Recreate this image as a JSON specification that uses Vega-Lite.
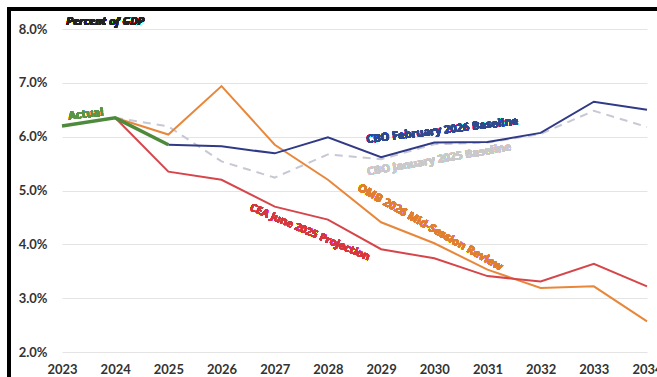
{
  "$schema": "https://vega.github.io/schema/vega-lite/v6.json",
  "autosize": {"type": "none"},
  "width": 585,
  "height": 323,
  "padding": {"left": 62, "top": 29, "right": 10, "bottom": 25},
  "background": "white",
  "config": {
    "view": {"stroke": null},
    "font": "Lato",
    "axis": {"labelFont": "Lato", "labelFontWeight": "bold", "labelFontSize": 13, "labelColor": "#333333"}
  },
  "datasets": {
    "deficits": [
      {"series": "Actual", "year": 2023, "value": 6.2},
      {"series": "Actual", "year": 2024, "value": 6.35},
      {"series": "Actual", "year": 2025, "value": 5.85},

      {"series": "CBO February 2026", "year": 2025, "value": 5.85},
      {"series": "CBO February 2026", "year": 2026, "value": 5.82},
      {"series": "CBO February 2026", "year": 2027, "value": 5.69},
      {"series": "CBO February 2026", "year": 2028, "value": 5.99},
      {"series": "CBO February 2026", "year": 2029, "value": 5.62},
      {"series": "CBO February 2026", "year": 2030, "value": 5.89},
      {"series": "CBO February 2026", "year": 2031, "value": 5.9},
      {"series": "CBO February 2026", "year": 2032, "value": 6.07},
      {"series": "CBO February 2026", "year": 2033, "value": 6.65},
      {"series": "CBO February 2026", "year": 2034, "value": 6.5},

      {"series": "CBO January 2025", "year": 2024, "value": 6.35},
      {"series": "CBO January 2025", "year": 2025, "value": 6.19},
      {"series": "CBO January 2025", "year": 2026, "value": 5.54},
      {"series": "CBO January 2025", "year": 2027, "value": 5.24},
      {"series": "CBO January 2025", "year": 2028, "value": 5.67},
      {"series": "CBO January 2025", "year": 2029, "value": 5.58},
      {"series": "CBO January 2025", "year": 2030, "value": 5.86},
      {"series": "CBO January 2025", "year": 2031, "value": 5.89},
      {"series": "CBO January 2025", "year": 2032, "value": 6.05},
      {"series": "CBO January 2025", "year": 2033, "value": 6.48},
      {"series": "CBO January 2025", "year": 2034, "value": 6.18},

      {"series": "OMB 2026 Mid-Session", "year": 2024, "value": 6.35},
      {"series": "OMB 2026 Mid-Session", "year": 2025, "value": 6.04},
      {"series": "OMB 2026 Mid-Session", "year": 2026, "value": 6.94},
      {"series": "OMB 2026 Mid-Session", "year": 2027, "value": 5.85},
      {"series": "OMB 2026 Mid-Session", "year": 2028, "value": 5.2},
      {"series": "OMB 2026 Mid-Session", "year": 2029, "value": 4.41},
      {"series": "OMB 2026 Mid-Session", "year": 2030, "value": 4.02},
      {"series": "OMB 2026 Mid-Session", "year": 2031, "value": 3.53},
      {"series": "OMB 2026 Mid-Session", "year": 2032, "value": 3.19},
      {"series": "OMB 2026 Mid-Session", "year": 2033, "value": 3.22},
      {"series": "OMB 2026 Mid-Session", "year": 2034, "value": 2.57},

      {"series": "CEA June 2025", "year": 2024, "value": 6.35},
      {"series": "CEA June 2025", "year": 2025, "value": 5.35},
      {"series": "CEA June 2025", "year": 2026, "value": 5.2},
      {"series": "CEA June 2025", "year": 2027, "value": 4.7},
      {"series": "CEA June 2025", "year": 2028, "value": 4.46},
      {"series": "CEA June 2025", "year": 2029, "value": 3.91},
      {"series": "CEA June 2025", "year": 2030, "value": 3.74},
      {"series": "CEA June 2025", "year": 2031, "value": 3.41},
      {"series": "CEA June 2025", "year": 2032, "value": 3.31},
      {"series": "CEA June 2025", "year": 2033, "value": 3.64},
      {"series": "CEA June 2025", "year": 2034, "value": 3.22}
    ]
  },
  "data": {"name": "deficits"},
  "encoding": {
    "x": {
      "field": "year", "type": "quantitative",
      "scale": {"domain": [2023, 2034], "nice": false, "zero": false},
      "axis": {
        "title": null, "format": "d",
        "values": [2023, 2024, 2025, 2026, 2027, 2028, 2029, 2030, 2031, 2032, 2033, 2034],
        "grid": false, "domain": false, "ticks": false, "labelPadding": 11,
        "labelOverlap": false, "labelFlush": false
      }
    },
    "y": {
      "field": "value", "type": "quantitative",
      "scale": {"domain": [2, 8], "nice": false, "zero": false},
      "axis": {
        "title": null, "values": [2, 3, 4, 5, 6, 7, 8],
        "labelExpr": "format(datum.value, '.1f') + '%'",
        "grid": true, "gridColor": "#E4E4E4", "gridWidth": 1,
        "domain": false, "ticks": false, "labelPadding": 15
      }
    }
  },
  "layer": [
    {
      "transform": [{"filter": "datum.series === 'CBO January 2025'"}],
      "mark": {"type": "line", "color": "#C6C8D4", "strokeWidth": 2, "strokeDash": [8, 6]}
    },
    {
      "transform": [{"filter": "datum.series === 'OMB 2026 Mid-Session'"}],
      "mark": {"type": "line", "color": "#E8873A", "strokeWidth": 2}
    },
    {
      "transform": [{"filter": "datum.series === 'CEA June 2025'"}],
      "mark": {"type": "line", "color": "#D6454A", "strokeWidth": 2}
    },
    {
      "transform": [{"filter": "datum.series === 'CBO February 2026'"}],
      "mark": {"type": "line", "color": "#303A86", "strokeWidth": 2}
    },
    {
      "transform": [{"filter": "datum.series === 'Actual'"}],
      "mark": {"type": "line", "color": "#4E8A3C", "strokeWidth": 3.5}
    },
    {
      "mark": {"type": "text", "font": "Open Sans", "fontWeight": "bold", "fontSize": 11, "color": "#5A9447", "angle": -6},
      "encoding": {"x": {"datum": 2023.45}, "y": {"datum": 6.41}, "text": {"value": "Actual"}}
    },
    {
      "mark": {"type": "text", "font": "Open Sans", "fontWeight": "bold", "fontSize": 11, "color": "#2F4A8C", "angle": -7},
      "encoding": {"x": {"datum": 2030.15}, "y": {"datum": 6.11}, "text": {"value": "CBO February 2026 Baseline"}}
    },
    {
      "mark": {"type": "text", "font": "Open Sans", "fontWeight": "bold", "fontSize": 11, "color": "#C9C9C9", "angle": -10},
      "encoding": {"x": {"datum": 2030.09}, "y": {"datum": 5.57}, "text": {"value": "CBO January 2025 Baseline"}}
    },
    {
      "mark": {"type": "text", "font": "Open Sans", "fontWeight": "bold", "fontSize": 11, "color": "#E07F30", "angle": 29.5},
      "encoding": {"x": {"datum": 2029.92}, "y": {"datum": 4.31}, "text": {"value": "OMB 2026 Mid-Session Review"}}
    },
    {
      "mark": {"type": "text", "font": "Open Sans", "fontWeight": "bold", "fontSize": 10.5, "color": "#D6373F", "angle": 23},
      "encoding": {"x": {"datum": 2027.66}, "y": {"datum": 4.22}, "text": {"value": "CEA June 2025 Projection"}}
    },
    {
      "mark": {"type": "text", "font": "Open Sans", "fontWeight": "bold", "fontStyle": "italic", "fontSize": 11, "color": "#222222", "align": "left"},
      "encoding": {"x": {"datum": 2023.08}, "y": {"datum": 8.13}, "text": {"value": "Percent of GDP"}}
    },
    {
      "mark": {"type": "rule", "color": "#000000", "strokeWidth": 3},
      "encoding": {"x": {"datum": 2021.98}, "x2": {"datum": 2034.4}, "y": {"datum": 8.365}}
    },
    {
      "mark": {"type": "rule", "color": "#000000", "strokeWidth": 3},
      "encoding": {"x": {"datum": 2022.0}, "y": {"datum": 1.4}, "y2": {"datum": 8.365}}
    }
  ]
}
